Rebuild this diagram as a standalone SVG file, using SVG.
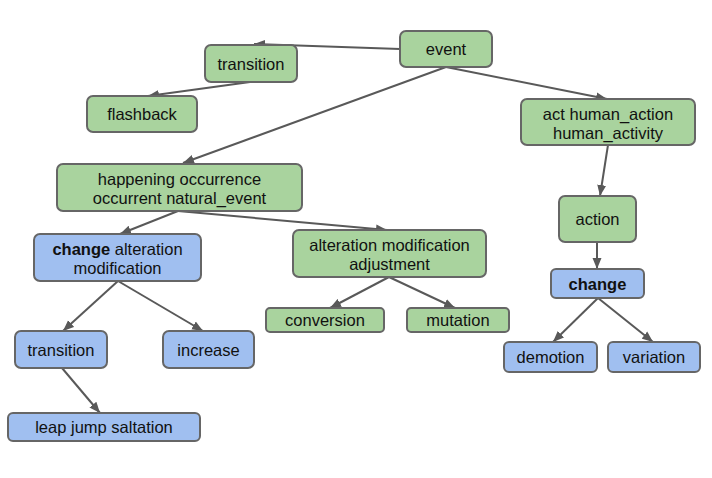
<svg xmlns="http://www.w3.org/2000/svg" width="712" height="478" viewBox="0 0 712 478">
  <defs>
    <marker id="arrow" markerUnits="userSpaceOnUse" markerWidth="12" markerHeight="10" refX="11" refY="5" orient="auto">
      <path d="M0,0.5 L11,5 L0,9.5 Z" fill="#595959"/>
    </marker>
  </defs>
  <style>
    .green rect { fill: #a9d39e; stroke: #666666; stroke-width: 2; }
    .blue rect { fill: #a0bff0; stroke: #666666; stroke-width: 2; }
    text { font-family: "Liberation Sans", Arial, sans-serif; font-size: 16.5px; fill: #111111; text-anchor: middle; }
    .b { font-weight: bold; }
    #edges line { stroke: #595959; stroke-width: 2; marker-end: url(#arrow); }
  </style>
  <rect width="712" height="478" fill="#ffffff"/>

  <g id="edges">
    <line x1="400" y1="49" x2="254" y2="44"/>
    <line x1="250" y1="82" x2="148" y2="96"/>
    <line x1="446" y1="67" x2="183" y2="163"/>
    <line x1="446" y1="67" x2="607" y2="99"/>
    <line x1="608" y1="145" x2="600" y2="196"/>
    <line x1="597" y1="242" x2="597" y2="269"/>
    <line x1="598" y1="298" x2="553" y2="342"/>
    <line x1="598" y1="298" x2="653" y2="342"/>
    <line x1="178" y1="211" x2="120" y2="234"/>
    <line x1="178" y1="211" x2="387" y2="230"/>
    <line x1="389" y1="277" x2="330" y2="308"/>
    <line x1="389" y1="277" x2="455" y2="308"/>
    <line x1="118" y1="281" x2="63" y2="331"/>
    <line x1="118" y1="281" x2="203" y2="331"/>
    <line x1="62" y1="368" x2="100" y2="413"/>
  </g>

  <g id="event" class="green">
    <rect x="400" y="31" width="92" height="36" rx="6"/>
    <text x="446" y="55">event</text>
  </g>
  <g id="transition-top" class="green">
    <rect x="205" y="45" width="92" height="37" rx="6"/>
    <text x="251" y="69.5">transition</text>
  </g>
  <g id="flashback" class="green">
    <rect x="87" y="96" width="110" height="36" rx="6"/>
    <text x="142" y="119.5">flashback</text>
  </g>
  <g id="act" class="green">
    <rect x="521" y="99" width="174" height="46" rx="6"/>
    <text x="608" y="119.5">act human_action</text>
    <text x="608" y="138.5">human_activity</text>
  </g>
  <g id="action" class="green">
    <rect x="559" y="196" width="77" height="46" rx="6"/>
    <text x="597.5" y="224.5">action</text>
  </g>
  <g id="change-right" class="blue">
    <rect x="551" y="269" width="93" height="29" rx="5"/>
    <text x="597.5" y="289.5" class="b">change</text>
  </g>
  <g id="demotion" class="blue">
    <rect x="504" y="342" width="93" height="30" rx="5"/>
    <text x="550.5" y="362.5">demotion</text>
  </g>
  <g id="variation" class="blue">
    <rect x="608" y="342" width="92" height="30" rx="5"/>
    <text x="654" y="362.5">variation</text>
  </g>
  <g id="happening" class="green">
    <rect x="57" y="164" width="245" height="47" rx="6"/>
    <text x="179.5" y="184.5">happening occurrence</text>
    <text x="179.5" y="203.5">occurrent natural_event</text>
  </g>
  <g id="change-alteration" class="blue">
    <rect x="34" y="234" width="167" height="47" rx="6"/>
    <text x="117.5" y="254.5"><tspan class="b">change</tspan> alteration</text>
    <text x="117.5" y="273.5">modification</text>
  </g>
  <g id="alteration-adjustment" class="green">
    <rect x="293" y="230" width="193" height="47" rx="6"/>
    <text x="389.5" y="250.5">alteration modification</text>
    <text x="389.5" y="269.5">adjustment</text>
  </g>
  <g id="conversion" class="green">
    <rect x="266" y="308" width="118" height="24" rx="4"/>
    <text x="325" y="325.5">conversion</text>
  </g>
  <g id="mutation" class="green">
    <rect x="407" y="308" width="102" height="24" rx="4"/>
    <text x="458" y="325.5">mutation</text>
  </g>
  <g id="transition-bottom" class="blue">
    <rect x="15" y="331" width="92" height="37" rx="6"/>
    <text x="61" y="355.5">transition</text>
  </g>
  <g id="increase" class="blue">
    <rect x="163" y="331" width="91" height="37" rx="6"/>
    <text x="208.5" y="355.5">increase</text>
  </g>
  <g id="leap" class="blue">
    <rect x="8" y="413" width="192" height="28" rx="5"/>
    <text x="104" y="432.5">leap jump saltation</text>
  </g>
</svg>
